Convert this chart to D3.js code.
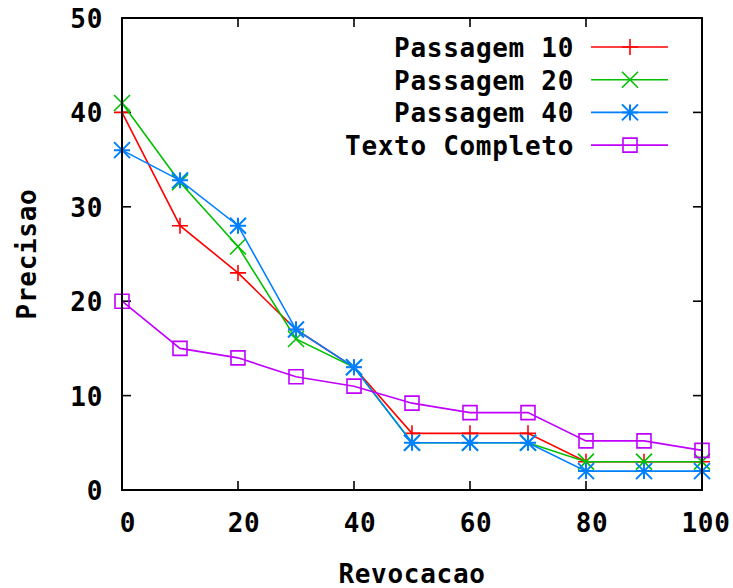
<!DOCTYPE html>
<html lang="en">
<head>
    <meta charset="UTF-8">
    <title>Precisao x Revocacao</title>
    <script src="https://d3js.org/d3.v7.min.js"></script>
    <style>
        body { margin: 0; background: white; }
        text {
            font-family: "DejaVu Sans Mono", monospace;
            font-weight: bold;
            font-size: 26px;
            letter-spacing: 0.7px;
            fill: black;
        }
    </style>
</head>
<body>
    <svg id="chart"></svg>

    <script>
        // Data
        const recall = [0, 10, 20, 30, 40, 50, 60, 70, 80, 90, 100];
        const passagem10 = [40, 28, 23, 17, 13, 6, 6, 6, 3, 3, 3];
        const passagem20 = [41, 32.6, 25.8, 16, 13, 5, 5, 5, 3, 3, 3];
        const passagem40 = [36, 32.8, 28, 17, 13, 5, 5, 5, 2, 2, 2];
        const textoCompleto = [20, 15, 14, 12, 11, 9.2, 8.2, 8.2, 5.2, 5.2, 4.2];
        const seriesNames = ["Passagem 10", "Passagem 20", "Passagem 40", "Texto Completo"];
        const xTicks = [0, 20, 40, 60, 80, 100];
        const yTicks = [0, 10, 20, 30, 40, 50];

        const series = [
            { name: seriesNames[0], values: passagem10, color: "#ff0000", marker: "plus" },
            { name: seriesNames[1], values: passagem20, color: "#00c000", marker: "cross" },
            { name: seriesNames[2], values: passagem40, color: "#0080ff", marker: "star" },
            { name: seriesNames[3], values: textoCompleto, color: "#c000ff", marker: "square" }
        ];

        const width = 733, height = 588;
        const margin = { top: 18, right: 31, bottom: 98, left: 122 };

        const svg = d3.select("#chart")
            .attr("width", width)
            .attr("height", height);

        const x = d3.scaleLinear().domain([0, 100]).range([margin.left, width - margin.right]);
        const y = d3.scaleLinear().domain([0, 50]).range([height - margin.bottom, margin.top]);

        // draw a gnuplot style point symbol
        function marker(g, type, cx, cy, color) {
            const s = 8;
            const p = d3.path();
            if (type === "plus" || type === "star") {
                p.moveTo(cx - s, cy); p.lineTo(cx + s, cy);
                p.moveTo(cx, cy - s); p.lineTo(cx, cy + s);
            }
            if (type === "cross" || type === "star") {
                p.moveTo(cx - s, cy - s); p.lineTo(cx + s, cy + s);
                p.moveTo(cx - s, cy + s); p.lineTo(cx + s, cy - s);
            }
            if (type === "square") {
                p.rect(cx - 7, cy - 7, 14, 14);
            }
            g.append("path")
                .attr("d", p.toString())
                .attr("fill", "none")
                .attr("stroke", color)
                .attr("stroke-width", type === "star" ? 2 : 1.6);
        }

        // ticks (inside, mirrored)
        const tickLen = 9;
        const axes = svg.append("g").attr("stroke", "black").attr("stroke-width", 1.6);
        xTicks.forEach(t => {
            axes.append("line").attr("x1", x(t)).attr("x2", x(t))
                .attr("y1", y(0)).attr("y2", y(0) - tickLen);
            axes.append("line").attr("x1", x(t)).attr("x2", x(t))
                .attr("y1", y(50)).attr("y2", y(50) + tickLen);
        });
        yTicks.forEach(t => {
            axes.append("line").attr("x1", x(0)).attr("x2", x(0) + tickLen)
                .attr("y1", y(t)).attr("y2", y(t));
            axes.append("line").attr("x1", x(100)).attr("x2", x(100) - tickLen)
                .attr("y1", y(t)).attr("y2", y(t));
        });

        // tick labels
        svg.append("g").selectAll("text")
            .data(xTicks)
            .join("text")
            .attr("x", d => x(d) + (d === 100 ? 4 : 6))
            .attr("y", y(0) + 42)
            .attr("text-anchor", "middle")
            .text(d => d);

        svg.append("g").selectAll("text")
            .data(yTicks)
            .join("text")
            .attr("x", x(0) - 19)
            .attr("y", d => y(d) + 10)
            .attr("text-anchor", "end")
            .text(d => d);

        // axis titles
        svg.append("text")
            .attr("x", (x(0) + x(100)) / 2)
            .attr("y", 583)
            .attr("text-anchor", "middle")
            .text("Revocacao");

        svg.append("text")
            .attr("transform", `translate(36,${(y(0) + y(50)) / 2}) rotate(-90)`)
            .attr("text-anchor", "middle")
            .text("Precisao");

        // lines and points
        const line = d3.line()
            .x((d, i) => x(recall[i]))
            .y(d => y(d));

        series.forEach(s => {
            const g = svg.append("g");
            g.append("path")
                .attr("d", line(s.values))
                .attr("fill", "none")
                .attr("stroke", s.color)
                .attr("stroke-width", 1.6);
            s.values.forEach((v, i) => marker(g, s.marker, x(recall[i]), y(v), s.color));
        });

        // legend
        const legend = svg.append("g");
        series.forEach((s, i) => {
            const ly = 47 + i * 32.7;
            legend.append("text")
                .attr("x", 574)
                .attr("y", ly + 10)
                .attr("text-anchor", "end")
                .text(s.name);
            legend.append("line")
                .attr("x1", 591).attr("x2", 668)
                .attr("y1", ly).attr("y2", ly)
                .attr("stroke", s.color)
                .attr("stroke-width", 1.6);
            marker(legend, s.marker, 630, ly, s.color);
        });

        // border
        svg.append("rect")
            .attr("x", x(0))
            .attr("y", y(50))
            .attr("width", x(100) - x(0))
            .attr("height", y(0) - y(50))
            .attr("fill", "none")
            .attr("stroke", "black")
            .attr("stroke-width", 2);
    </script>
</body>
</html>
